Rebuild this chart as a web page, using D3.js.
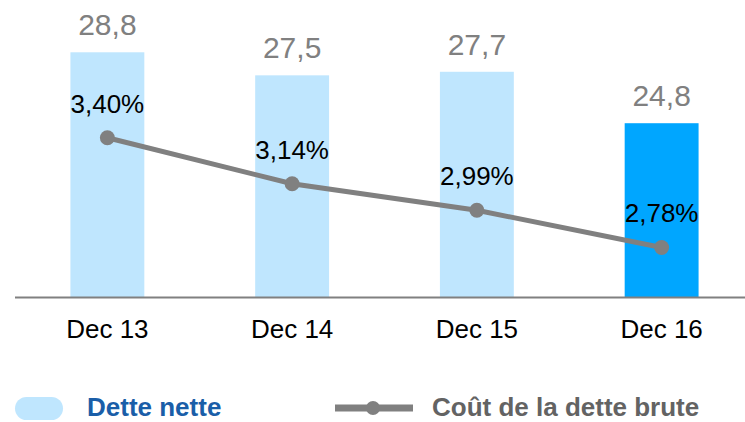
<!DOCTYPE html>
<html>
<head>
<meta charset="utf-8">
<script src="https://d3js.org/d3.v7.min.js"></script>
<style>
  body { margin: 0; background: #fff; }
  svg { display: block; font-family: Arial, "Liberation Sans", sans-serif; }
</style>
</head>
<body>
<svg id="chart"></svg>
<script>
  // data
  var categories = ["Dec 13", "Dec 14", "Dec 15", "Dec 16"];
  var detteNette = [28.8, 27.5, 27.7, 24.8];
  var coutDette = [3.40, 3.14, 2.99, 2.78];

  var width = 745, height = 422;
  var baseY = 297;

  var svg = d3.select("#chart")
    .attr("width", width)
    .attr("height", height);

  var x = d3.scaleBand()
    .domain(categories)
    .range([15, 754])
    .paddingInner(0.6)
    .paddingOuter(0.3);

  // bars don't start at zero on the original
  var yBar = d3.scaleLinear().domain([15, 30]).range([baseY, 31]);
  var yLine = d3.scaleLinear().domain([2.5, 3.5]).range([baseY, 120]);

  var fmt = function (v, d) { return v.toFixed(d).replace(".", ","); };

  svg.selectAll(".bar")
    .data(detteNette)
    .enter().append("rect")
    .attr("class", "bar")
    .attr("x", function (d, i) { return x(categories[i]); })
    .attr("width", x.bandwidth())
    .attr("y", function (d) { return yBar(d); })
    .attr("height", function (d) { return baseY - yBar(d); })
    .attr("fill", function (d, i) { return i == categories.length - 1 ? "#00a6ff" : "#bfe6fe"; });

  svg.selectAll(".barlabel")
    .data(detteNette)
    .enter().append("text")
    .attr("class", "barlabel")
    .attr("x", function (d, i) { return x(categories[i]) + x.bandwidth() / 2; })
    .attr("y", function (d) { return yBar(d) - 17; })
    .attr("text-anchor", "middle")
    .attr("font-size", 30)
    .attr("fill", "#808080")
    .text(function (d) { return fmt(d, 1); });

  // axis line
  svg.append("line")
    .attr("x1", 15).attr("x2", 745)
    .attr("y1", baseY + 0.5).attr("y2", baseY + 0.5)
    .attr("stroke", "#808080")
    .attr("stroke-width", 2);

  svg.selectAll(".cat")
    .data(categories)
    .enter().append("text")
    .attr("class", "cat")
    .attr("x", function (d) { return x(d) + x.bandwidth() / 2; })
    .attr("y", 338)
    .attr("text-anchor", "middle")
    .attr("font-size", 26)
    .attr("fill", "#000")
    .text(function (d) { return d; });

  var line = d3.line()
    .x(function (d, i) { return x(categories[i]) + x.bandwidth() / 2; })
    .y(function (d) { return yLine(d); });

  svg.append("path")
    .datum(coutDette)
    .attr("d", line)
    .attr("fill", "none")
    .attr("stroke", "#808080")
    .attr("stroke-width", 5);

  svg.selectAll(".dot")
    .data(coutDette)
    .enter().append("circle")
    .attr("class", "dot")
    .attr("cx", function (d, i) { return x(categories[i]) + x.bandwidth() / 2; })
    .attr("cy", function (d) { return yLine(d); })
    .attr("r", 7.5)
    .attr("fill", "#808080");

  svg.selectAll(".pct")
    .data(coutDette)
    .enter().append("text")
    .attr("class", "pct")
    .attr("x", function (d, i) { return x(categories[i]) + x.bandwidth() / 2; })
    .attr("y", function (d) { return yLine(d) - 25; })
    .attr("text-anchor", "middle")
    .attr("font-size", 26)
    .attr("fill", "#000")
    .text(function (d) { return fmt(d, 2) + "%"; });

  // legend
  var lg = svg.append("g")
    .attr("font-weight", "bold").attr("font-size", 26);

  lg.append("rect")
    .attr("x", 15).attr("y", 397)
    .attr("width", 48).attr("height", 23)
    .attr("rx", 11.5)
    .attr("fill", "#bfe6fe");
  lg.append("text")
    .attr("x", 87).attr("y", 416)
    .attr("fill", "#1a5ea8")
    .text("Dette nette");

  lg.append("line")
    .attr("x1", 335).attr("x2", 413)
    .attr("y1", 408).attr("y2", 408)
    .attr("stroke", "#808080")
    .attr("stroke-width", 7);
  lg.append("circle")
    .attr("cx", 373).attr("cy", 408).attr("r", 7)
    .attr("fill", "#808080");
  lg.append("text")
    .attr("x", 432).attr("y", 416)
    .attr("fill", "#636363")
    .text("Coût de la dette brute");
</script>
</body>
</html>
